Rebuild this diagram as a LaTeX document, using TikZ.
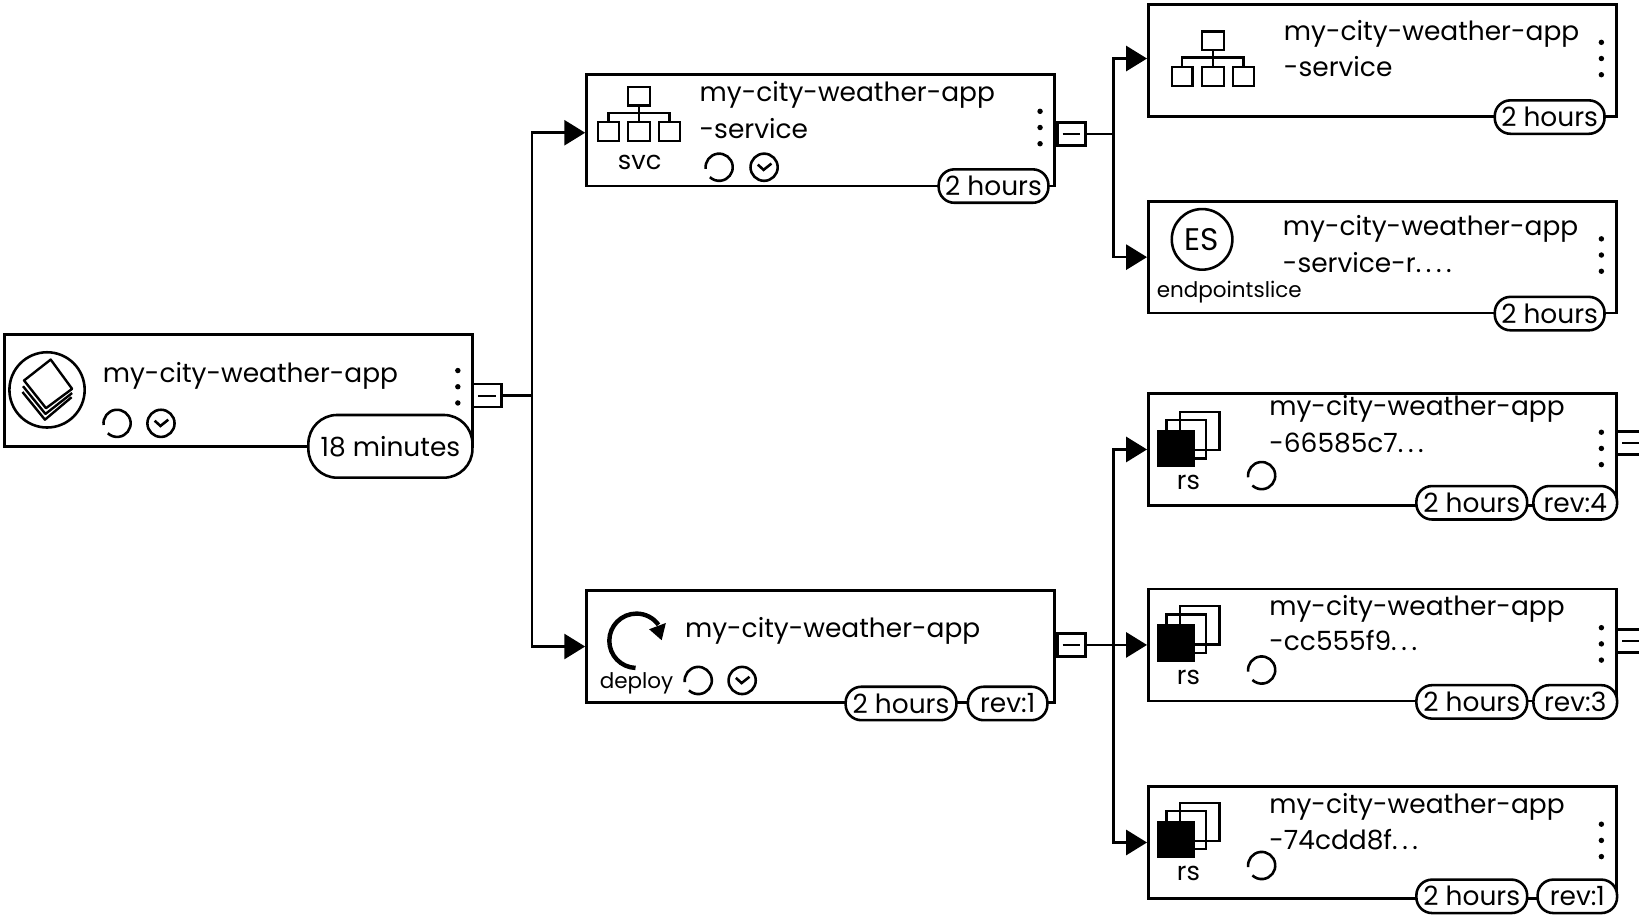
\documentclass[tikz,border=0pt]{standalone}
\usepackage{fontspec}
\setmainfont{Poppins}
\usetikzlibrary{arrows.meta}

\newcommand{\dotgap}{\kern2.5pt}

\tikzset{
  appbox/.style={draw,line width=1.4pt,fill=white,minimum width=8.96cm,minimum height=2.14cm,inner sep=0pt},
  pillbox/.style={draw,line width=1.4pt,fill=white,rounded corners=.3cm,minimum height=.64cm,inner sep=0pt,font=\fontsize{14.4}{16}\selectfont},
  togglebox/.style={draw,line width=1.4pt,fill=white,minimum width=.54cm,minimum height=.44cm,inner sep=0pt,
    path picture={\draw[line width=1pt] ([xshift=-.17cm]path picture bounding box.center) -- ([xshift=.17cm]path picture bounding box.center);}},
  nametext/.style={anchor=base west,inner sep=0pt,font=\fontsize{14.4}{16}\selectfont},
  kindtext/.style={inner sep=0pt,font=\fontsize{11.7}{13}\selectfont},
  shorttext/.style={inner sep=0pt,font=\fontsize{14}{16}\selectfont},
  wire/.style={line width=1.4pt},
  arrowwire/.style={line width=1.4pt,-{Triangle[length=.4cm,width=.48cm]}},
  pics/spinner/.style={code={\draw[line width=1.4pt] (187:13) arc (187:-133:13);}},
  pics/okmark/.style={code={
    \draw[line width=1.4pt] (0,0) circle (13);
    \draw[line width=1.4pt] (-6,2.5) -- (-.5,-2.5) -- (7,3.5);}},
  pics/kebab/.style={code={
    \fill (0,15.5) circle (2.6);
    \fill (0,0) circle (2.6);
    \fill (0,-15.5) circle (2.6);}},
  pics/treeicon/.style={code={
    \draw[line width=1.3pt] (-10.5,9) rectangle (10.5,-9);
    \draw[line width=1.3pt] (-39.5,-25) rectangle (-19.5,-43);
    \draw[line width=1.3pt] (-10.5,-25) rectangle (10.5,-43);
    \draw[line width=1.3pt] (19,-25) rectangle (39,-43);
    \draw[line width=1.3pt] (0,-9) -- (0,-25);
    \draw[line width=1.3pt] (-29.5,-25) -- (-29.5,-16) -- (29,-16) -- (29,-25);}},
  pics/rsicon/.style={code={
    \draw[line width=1.3pt] (4,35) rectangle (41.5,-1.5);
    \draw[line width=1.3pt] (-9,27) rectangle (29,-9.5);
    \fill (-18,18) rectangle (18,-18);}},
  pics/stackicon/.style={code={
    \draw[line width=1.4pt] (0,0) circle (36);
    \draw[line width=1.3pt,line join=round] (-23.5,-2) -- (-2,-28.5) -- (23.5,-7);
    \draw[line width=1.3pt,line join=round] (-23,3.5) -- (-1.5,-23) -- (24,-3);
    \draw[line width=1.3pt,fill=white,line join=round] (3.5,29) -- (24,1) -- (-1,-17.5) -- (-22,9) -- cycle;}},
  pics/deployicon/.style={code={
    \draw[line width=2.4pt] (-1,-26) arc (-92:-180:26) arc (180:36:26);
    \fill (28,17) -- (12,11) -- (24,0.5) -- cycle;}},
}

\begin{document}
\begin{tikzpicture}[x=.02cm,y=.02cm]

\path[use as bounding box,clip] (0,0) rectangle (1568,-881);

% boxes
\node[appbox] (rootBox) at (228,-373.5) {};
\node[appbox] (svcBox) at (785,-124.5) {};
\node[appbox] (deployBox) at (785,-618.5) {};
\node[appbox] (svcChild) at (1322.5,-58) {};
\node[appbox] (esChild) at (1322.5,-246) {};
\node[appbox] (rsFour) at (1322.5,-430) {};
\node[appbox] (rsThree) at (1322.5,-617) {};
\node[appbox] (rsOne) at (1322.5,-806) {};

% toggles
\node[togglebox] (rootToggle) at (466,-378.5) {};
\node[togglebox] (svcToggle) at (1025,-128) {};
\node[togglebox] (deployToggle) at (1025,-617) {};
\node[togglebox] (rsFourToggle) at (1560.5,-424) {};
\node[togglebox] (rsThreeToggle) at (1560.5,-613) {};

\coordinate (rootJoin) at (509,-378.5);
\coordinate (svcJoin) at (1065,-128);
\coordinate (deployJoin) at (1065,-617);

% connectors
\draw[wire] (rootToggle.east) -- (rootJoin);
\draw[arrowwire] (rootJoin) |- ([yshift=-.05cm]svcBox.west);
\draw[arrowwire] (rootJoin) |- (deployBox.west);
\draw[wire] (svcToggle.east) -- (svcJoin);
\draw[arrowwire] (svcJoin) |- ([yshift=.04cm]svcChild.west);
\draw[arrowwire] (svcJoin) |- (esChild.west);
\draw[arrowwire] (deployToggle.east) -- (deployJoin) -- (rsThree.west);
\draw[arrowwire] (deployJoin) |- (rsFour.west);
\draw[arrowwire] (deployJoin) |- (rsOne.west);

% root
\pic at (45,-373) {stackicon};
\node[nametext] (rootName) at (98,-365.5) {my-city-weather-app};
\pic at (112,-405) {spinner};
\pic at (154,-405) {okmark};
\pic at (438,-370) {kebab};
\node[pillbox,minimum width=3.14cm,minimum height=1.2cm,rounded corners=.55cm] (rootAge) at (373.5,-427) {18 minutes};

% service
\pic at (611.5,-92) {treeicon};
\node[shorttext] (svcKind) at (612,-155) {svc};
\node[nametext] (svcName) at (669,-97.5) {my-city-weather-app};
\node[nametext] (svcNameB) at (669,-132.5) {-service};
\pic at (688,-160) {spinner};
\pic at (731,-160) {okmark};
\pic at (995,-122) {kebab};
\node[pillbox,minimum width=2.1cm] (svcAge) at (950.5,-178) {2 hours};

% deployment
\pic at (609,-613) {deployicon};
\node[kindtext] (deployKind) at (609,-654) {deploy};
\node[nametext] (deployName) at (655,-610) {my-city-weather-app};
\pic at (668,-651) {spinner};
\pic at (710,-651) {okmark};
\node[pillbox,minimum width=2.12cm] (deployAge) at (862,-673) {2 hours};
\node[pillbox,minimum width=1.52cm] (deployRev) at (964,-673) {rev:1};

% service child
\pic at (1160.5,-39) {treeicon};
\node[nametext] (svcChildName) at (1228,-38.5) {my-city-weather-app};
\node[nametext] (svcChildNameB) at (1228,-73.5) {-service};
\pic at (1532,-56) {kebab};
\node[pillbox,minimum width=2.1cm] (svcChildAge) at (1482.5,-112) {2 hours};

% endpointslice child
\node[draw,circle,line width=1.4pt,minimum size=1.16cm,inner sep=0pt,font=\fontsize{17}{19}\selectfont] (esIcon) at (1150,-229) {ES};
\node[kindtext] (esKind) at (1176,-279) {endpointslice};
\node[nametext] (esChildName) at (1227,-225.5) {my-city-weather-app};
\node[nametext] (esChildNameB) at (1227,-260.5) {-service-r.\dotgap.\dotgap.\dotgap.};
\pic at (1532,-244) {kebab};
\node[pillbox,minimum width=2.1cm] (esChildAge) at (1482.5,-300) {2 hours};

% replica sets
\pic at (1125,-429) {rsicon};
\node[shorttext] (rsFourKind) at (1137,-462) {rs};
\node[nametext] (rsFourName) at (1214,-397.5) {my-city-weather-app};
\node[nametext] (rsFourNameB) at (1214,-432.5) {-66585c7.\dotgap.\dotgap.};
\pic at (1207,-455) {spinner};
\pic at (1532,-429) {kebab};
\node[pillbox,minimum width=2.12cm] (rsFourAge) at (1408,-481) {2 hours};
\node[pillbox,minimum width=1.6cm] (rsFourRev) at (1507,-481) {rev:4};

\pic at (1125,-615) {rsicon};
\node[shorttext] (rsThreeKind) at (1137,-648) {rs};
\node[nametext] (rsThreeName) at (1214,-588.5) {my-city-weather-app};
\node[nametext] (rsThreeNameB) at (1214,-622.5) {-cc555f9.\dotgap.\dotgap.};
\pic at (1207,-641) {spinner};
\pic at (1532,-616) {kebab};
\node[pillbox,minimum width=2.12cm] (rsThreeAge) at (1408,-671.5) {2 hours};
\node[pillbox,minimum width=1.6cm] (rsThreeRev) at (1507,-671.5) {rev:3};

\pic at (1125,-803) {rsicon};
\node[shorttext] (rsOneKind) at (1137,-836) {rs};
\node[nametext] (rsOneName) at (1214,-778.5) {my-city-weather-app};
\node[nametext] (rsOneNameB) at (1214,-812.5) {-74cdd8f.\dotgap.\dotgap.};
\pic at (1207,-828) {spinner};
\pic at (1532,-804) {kebab};
\node[pillbox,minimum width=2.12cm] (rsOneAge) at (1408,-857.5) {2 hours};
\node[pillbox,minimum width=1.52cm] (rsOneRev) at (1509,-857.5) {rev:1};

\end{tikzpicture}
\end{document}
